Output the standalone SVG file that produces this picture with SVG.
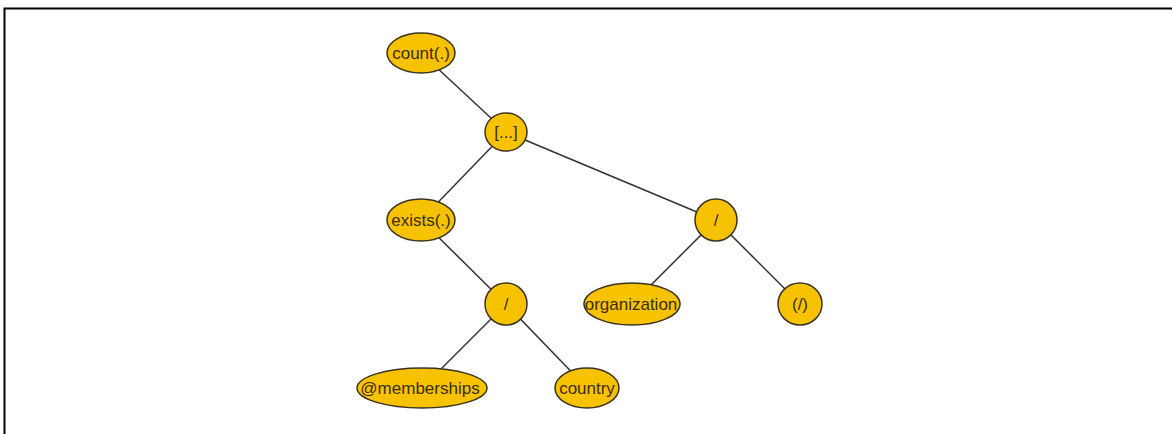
<svg xmlns="http://www.w3.org/2000/svg" width="1172" height="434" viewBox="0 0 1172 434">
<style>
.n{fill:#f7c300;stroke:#3a3320;stroke-width:1.5}
.t{font-family:"Liberation Sans",Arial,sans-serif;font-size:17px;fill:#3d2c05;text-anchor:middle;dominant-baseline:central}
.e{stroke:#333;stroke-width:1.5;fill:none}
</style>
<rect width="1172" height="434" fill="#fff"/>
<path d="M4.5 434V8.5H1172" fill="none" stroke="#000" stroke-width="2"/>
<g id="connectors">
<line class="e" x1="421" y1="53" x2="506" y2="132"/>
<line class="e" x1="506" y1="132" x2="421" y2="220"/>
<line class="e" x1="506" y1="132" x2="716" y2="220"/>
<line class="e" x1="421" y1="220" x2="506" y2="304"/>
<line class="e" x1="506" y1="304" x2="422" y2="388"/>
<line class="e" x1="506" y1="304" x2="587" y2="388"/>
<line class="e" x1="716" y1="220" x2="632" y2="304"/>
<line class="e" x1="716" y1="220" x2="800" y2="304"/>
</g>
<g id="count"><ellipse class="n" cx="421" cy="53" rx="34" ry="20"/><text class="t" x="421" y="53">count(.)</text></g>
<g id="filter"><ellipse class="n" cx="506" cy="132" rx="21" ry="19"/><text class="t" x="506" y="132">[...]</text></g>
<g id="exists"><ellipse class="n" cx="421" cy="220" rx="34" ry="21"/><text class="t" x="421" y="220">exists(.)</text></g>
<g id="slash1"><ellipse class="n" cx="716" cy="220" rx="21" ry="21"/><text class="t" x="716" y="220">/</text></g>
<g id="slash2"><ellipse class="n" cx="506" cy="304" rx="21" ry="21"/><text class="t" x="506" y="304">/</text></g>
<g id="organization"><ellipse class="n" cx="632" cy="304" rx="48" ry="21"/><text class="t" x="631" y="304">organization</text></g>
<g id="root"><ellipse class="n" cx="800" cy="304" rx="22" ry="21"/><text class="t" x="800" y="304">(/)</text></g>
<g id="memberships"><ellipse class="n" cx="422" cy="388" rx="65" ry="20"/><text class="t" x="420" y="388">@memberships</text></g>
<g id="country"><ellipse class="n" cx="587" cy="388" rx="32" ry="20"/><text class="t" x="587" y="388">country</text></g>
</svg>
